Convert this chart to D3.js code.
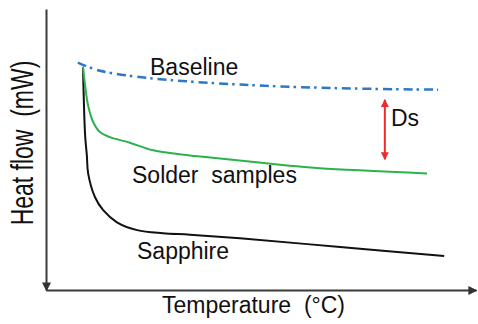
<!DOCTYPE html>
<html>
<head>
<meta charset="utf-8">
<script src="https://cdn.jsdelivr.net/npm/d3@7"></script>
<style>
  body { margin: 0; background: #fff; }
  text { font-family: "Liberation Sans", Arial, sans-serif; white-space: pre; }
</style>
</head>
<body>
<div id="chart"></div>
<script>
// values in arbitrary units (0-100 on both axes)
var baselineX = [7.4, 12.6, 24.2, 45.1, 68.4, 91.2];
var baselineY = [80.9, 78.0, 75.4, 73.1, 71.8, 71.3];

var solderX = [8.6, 9.1, 9.8, 11.0, 12.6, 14.9, 19.5, 24.9, 33.5, 40.5, 56.1, 63.7, 88.6];
var solderY = [79.4, 72.7, 65.6, 59.7, 56.1, 54.4, 52.4, 49.7, 47.9, 46.8, 44.3, 43.3, 41.5];

var sapphireX = [8.6, 9.1, 9.5, 9.8, 11.4, 13.3, 16.5, 21.2, 27.2, 33.5, 45.1, 68.4, 92.6];
var sapphireY = [79.4, 55.0, 47.9, 41.5, 33.0, 28.4, 24.1, 21.3, 20.2, 19.7, 18.4, 15.3, 12.1];

var dsX = 78.8, dsTop = 67.7, dsBottom = 46.5;

var width = 478, height = 324;
var margin = {top: 9, right: 2, bottom: 34, left: 46};

var x = d3.scaleLinear().domain([0, 100]).range([margin.left, width - margin.right]);
var y = d3.scaleLinear().domain([0, 100]).range([height - margin.bottom, margin.top]);

var svg = d3.select("#chart")
    .append("svg")
    .attr("width", width)
    .attr("height", height);

var defs = svg.append("defs");
function arrowMarker(id, color, size) {
    defs.append("marker")
        .attr("id", id)
        .attr("viewBox", "0 -5 10 10")
        .attr("refX", 9)
        .attr("refY", 0)
        .attr("markerUnits", "userSpaceOnUse")
        .attr("markerWidth", size)
        .attr("markerHeight", size)
        .attr("orient", "auto-start-reverse")
        .append("path")
        .attr("d", "M0,-5L10,0L0,5Z")
        .attr("fill", color);
}
arrowMarker("axisArrow", "#333", 9);
arrowMarker("redArrow", "#ee2a2a", 8);

// axes: just the domain lines with arrow heads
var xAxis = svg.append("g")
    .attr("transform", "translate(0," + y(0) + ")")
    .call(d3.axisBottom(x).ticks(0).tickSizeOuter(0));
var yAxis = svg.append("g")
    .attr("transform", "translate(" + x(0) + ",0)")
    .call(d3.axisLeft(y).ticks(0).tickSizeOuter(0));

svg.selectAll(".domain")
    .attr("stroke", "#3a3a3a")
    .attr("stroke-width", 2);
xAxis.select(".domain").attr("marker-end", "url(#axisArrow)");
yAxis.select(".domain").attr("marker-start", "url(#axisArrow)");

var line = d3.line()
    .x(function(d) { return x(d[0]); })
    .y(function(d) { return y(d[1]); })
    .curve(d3.curveCatmullRom.alpha(0.5));

function pairs(xs, ys) {
    return xs.map(function(v, i) { return [v, ys[i]]; });
}

svg.append("path")
    .datum(pairs(sapphireX, sapphireY))
    .attr("d", line)
    .attr("fill", "none")
    .attr("stroke", "#111")
    .attr("stroke-width", 2);

svg.append("path")
    .datum(pairs(solderX, solderY))
    .attr("d", line)
    .attr("fill", "none")
    .attr("stroke", "#2bb24c")
    .attr("stroke-width", 2);

svg.append("path")
    .datum(pairs(baselineX, baselineY))
    .attr("d", line)
    .attr("fill", "none")
    .attr("stroke", "#2b78c8")
    .attr("stroke-width", 2.5)
    .attr("stroke-dasharray", "9,4,2.5,5");

// Ds arrow
svg.append("line")
    .attr("x1", x(dsX))
    .attr("x2", x(dsX))
    .attr("y1", y(dsTop))
    .attr("y2", y(dsBottom))
    .attr("stroke", "#ee2a2a")
    .attr("stroke-width", 2)
    .attr("marker-start", "url(#redArrow)")
    .attr("marker-end", "url(#redArrow)");

// labels
function label(text, px, py) {
    return svg.append("text")
        .attr("x", px)
        .attr("y", py)
        .attr("font-size", 23)
        .attr("fill", "#111")
        .text(text);
}
label("Baseline", 150, 75);
label("Solder  samples", 132, 183);
label("Sapphire", 137, 259);
label("Ds", 391, 126);
label("Temperature  (°C)", 162, 313);

// y label looks stretched across its height in the original
svg.append("text")
    .attr("transform", "translate(33,143) rotate(-90) scale(1,1.33)")
    .attr("text-anchor", "middle")
    .attr("font-size", 23)
    .attr("fill", "#111")
    .text("Heat flow  (mW)");
</script>
</body>
</html>
